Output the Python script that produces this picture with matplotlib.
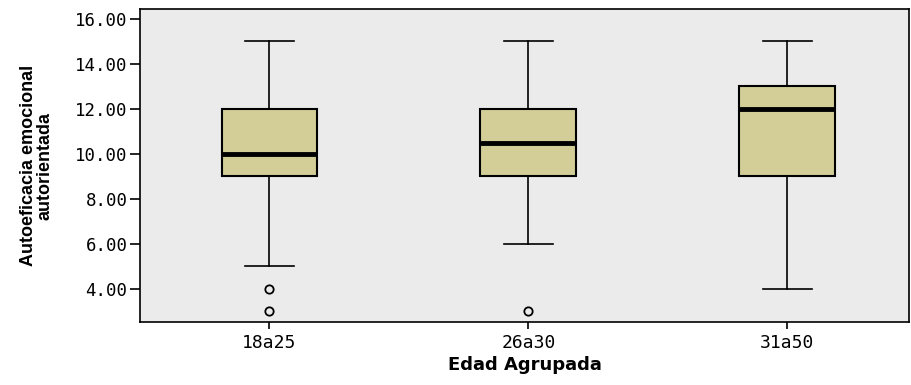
import matplotlib.pyplot as plt

# Data
groups = ['18a25', '26a30', '31a50']
whisker_low = [5.0, 6.0, 4.0]
q1 = [9.0, 9.0, 9.0]
medians = [10.0, 10.5, 12.0]
q3 = [12.0, 12.0, 13.0]
whisker_high = [15.0, 15.0, 15.0]
outliers = [[4.0, 3.0], [3.0], []]
yticks = [4, 6, 8, 10, 12, 14, 16]

stats = []
for i, g in enumerate(groups):
    stats.append(dict(label=g, whislo=whisker_low[i], q1=q1[i], med=medians[i],
                      q3=q3[i], whishi=whisker_high[i], fliers=outliers[i]))

fig = plt.figure(figsize=(9.11, 3.85), dpi=100)
ax = fig.add_axes([0.1537, 0.1636, 0.8441, 0.813])
ax.set_facecolor('#EBEBEB')

ax.bxp(stats, positions=[1, 2, 3], widths=0.37, patch_artist=True,
       boxprops=dict(facecolor='#D3CE97', edgecolor='black', linewidth=1.5),
       medianprops=dict(color='black', linewidth=3.5),
       whiskerprops=dict(color='black', linewidth=1.2),
       capprops=dict(color='black', linewidth=1.2),
       capwidths=0.19,
       flierprops=dict(marker='o', markersize=6, markerfacecolor='none',
                       markeredgecolor='black', markeredgewidth=1.3))

ax.set_xlim(0.5, 3.47)
ax.set_ylim(2.53, 16.44)
ax.set_yticks(yticks)
ax.set_yticklabels([f'{v:.2f}' for v in yticks], fontsize=12.5, family='DejaVu Sans Mono')
ax.set_xticks([1, 2, 3])
ax.set_xticklabels(groups, fontsize=13, family='DejaVu Sans Mono')
ax.tick_params(axis='y', length=7, width=1.2, pad=2)
ax.tick_params(axis='x', length=5, width=1.2)
for s in ax.spines.values():
    s.set_linewidth(1.2)

ax.set_xlabel('Edad Agrupada', fontsize=13, fontweight='bold', labelpad=3)
ax.set_ylabel('Autoeficacia emocional\nautorientada', fontsize=13, fontweight='bold',
              family=['Liberation Sans', 'DejaVu Sans'], linespacing=0.95)
ax.yaxis.set_label_coords(-0.113, 0.5)

fig.savefig('out.png', dpi=100)
